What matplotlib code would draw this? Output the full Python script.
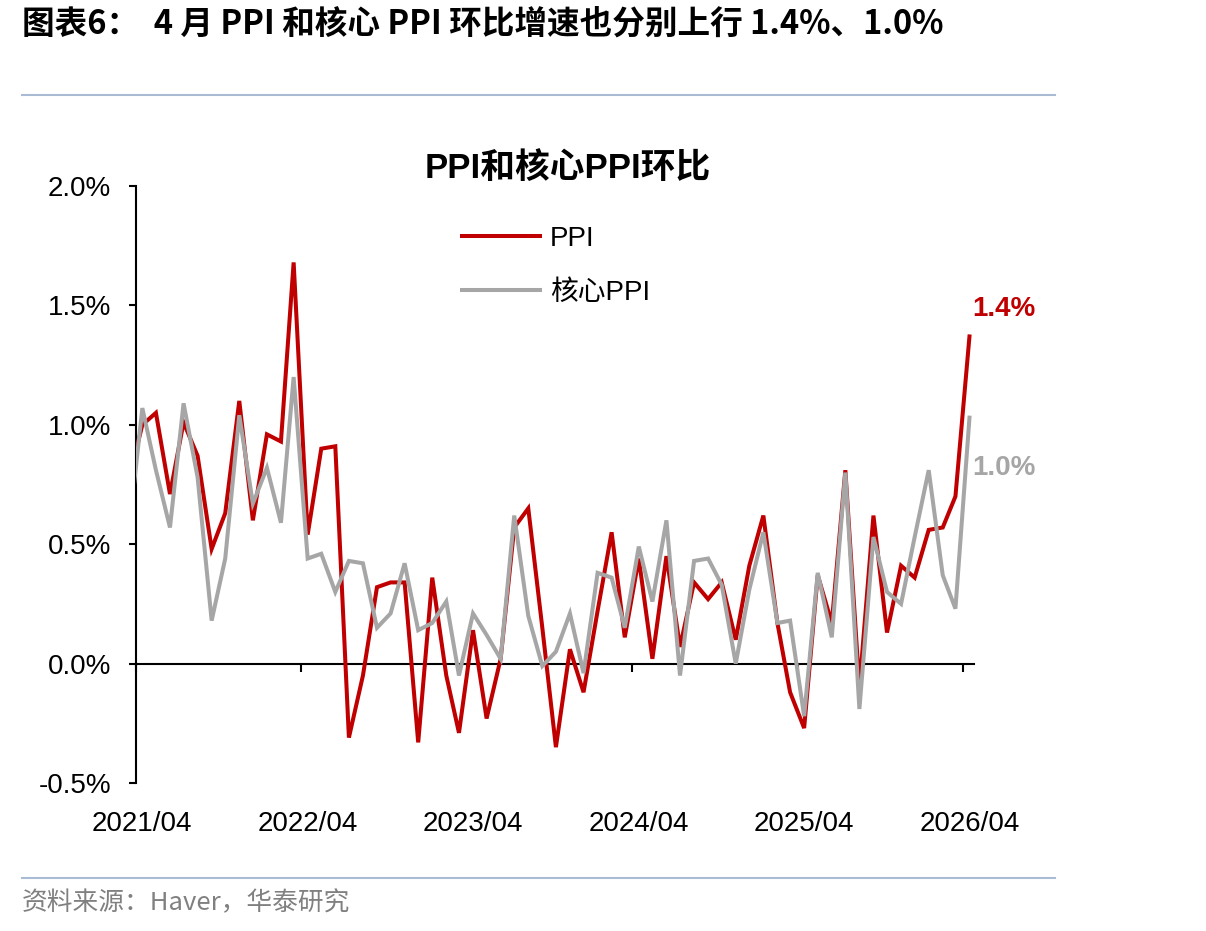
import matplotlib
matplotlib.use("Agg")
import matplotlib.pyplot as plt
from matplotlib.lines import Line2D
import numpy as np
import pandas as pd

plt.rcParams['font.family'] = ['Liberation Sans', 'Noto Sans CJK SC', 'DejaVu Sans']

# ---------------- data ----------------
# monthly, 2021/03 .. 2026/04 (first point lies left of the axis and is clipped)
months = pd.date_range('2021-03-01', '2026-04-01', freq='MS')
ppi = [0.76,
       1.00, 1.05, 0.71, 1.01, 0.87, 0.48, 0.63, 1.10, 0.60, 0.96, 0.93, 1.68,
       0.54, 0.90, 0.91, -0.31, -0.05, 0.32, 0.34, 0.34, -0.33, 0.36, -0.05, -0.29,
       0.14, -0.23, 0.02, 0.57, 0.65, 0.15, -0.35, 0.06, -0.12, 0.22, 0.55, 0.11,
       0.44, 0.02, 0.45, 0.07, 0.34, 0.27, 0.34, 0.10, 0.41, 0.62, 0.17, -0.12,
       -0.27, 0.37, 0.17, 0.81, -0.10, 0.62, 0.13, 0.41, 0.36, 0.56, 0.57, 0.70,
       1.37]
core_ppi = [0.53,
            1.07, 0.81, 0.57, 1.09, 0.78, 0.18, 0.44, 1.04, 0.67, 0.82, 0.59, 1.20,
            0.44, 0.46, 0.30, 0.43, 0.42, 0.15, 0.21, 0.42, 0.14, 0.17, 0.26, -0.05,
            0.21, 0.12, 0.02, 0.62, 0.20, -0.01, 0.05, 0.21, -0.04, 0.38, 0.36, 0.15,
            0.49, 0.26, 0.60, -0.05, 0.43, 0.44, 0.33, 0.00, 0.31, 0.55, 0.17, 0.18,
            -0.22, 0.38, 0.11, 0.80, -0.19, 0.53, 0.30, 0.25, 0.53, 0.81, 0.37, 0.23,
            1.03]
tick_labels = ['2021/04', '2022/04', '2023/04', '2024/04', '2025/04', '2026/04']
y_ticks = [-0.5, 0.0, 0.5, 1.0, 1.5, 2.0]

series_names = ['PPI', '核心PPI']
colors = ['#C00000', '#A6A6A6']

title_text = '图表6：  4 月 PPI 和核心 PPI 环比增速也分别上行 1.4%、1.0%'
chart_title = 'PPI和核心PPI环比'
source_text = '资料来源：Haver，华泰研究'

# ---------------- figure ----------------
W, H = 1206, 931
fig = plt.figure(figsize=(W / 100, H / 100), dpi=100)
ax = fig.add_axes([136 / W, 1 - 783 / H, (974 - 136) / W, (783 - 186) / H])

x = months + pd.Timedelta(days=14)
ax.plot(x, ppi, color=colors[0], lw=2.9, solid_joinstyle='miter', zorder=3)
ax.plot(x, core_ppi, color=colors[1], lw=2.9, solid_joinstyle='miter', zorder=4)

tick_dates = pd.to_datetime([t.replace('/', '-') + '-01' for t in tick_labels])
ax.set_xlim(tick_dates[0], pd.Timestamp('2026-04-25'))
ax.set_ylim(-0.5, 2.0)

for s in ['top', 'right']:
    ax.spines[s].set_visible(False)
ax.spines['bottom'].set_position(('data', 0))
ax.spines['bottom'].set_linewidth(1.5)
ax.spines['left'].set_linewidth(1.5)

ax.set_yticks(y_ticks)
ax.set_yticklabels([f'{v:.1f}%' for v in y_ticks])
ax.tick_params(axis='y', direction='out', length=5, width=1.5, labelsize=20, pad=13)

ax.set_xticks(tick_dates)
ax.tick_params(axis='x', direction='out', length=6, width=1.5, labelbottom=False)

sec = ax.secondary_xaxis(0)
sec.set_xticks(tick_dates + pd.Timedelta(days=14))
sec.set_xticklabels(tick_labels)
sec.tick_params(axis='x', length=0, labelsize=20, pad=20)
sec.spines['bottom'].set_visible(False)

# end labels
ax.annotate(f'{ppi[-1]:.1f}%', xy=(x[-1], ppi[-1]), xytext=(25, 20),
            textcoords='offset points', ha='center', va='center',
            fontsize=20, fontweight='bold', color=colors[0])
ax.annotate(f'{core_ppi[-1]:.1f}%', xy=(x[-1], core_ppi[-1]), xytext=(25, -36),
            textcoords='offset points', ha='center', va='center',
            fontsize=20, fontweight='bold', color=colors[1])

# legend
handles = [Line2D([], [], color=c, lw=2.9) for c in colors]
fig.legend(handles, series_names, loc='upper left',
           bbox_to_anchor=(462 / W, 1 - 226 / H), bbox_transform=fig.transFigure,
           frameon=False, fontsize=20, handlelength=2.8, handletextpad=0.36,
           labelspacing=1.01, borderpad=0, borderaxespad=0)

# titles / texts
fig.text(568 / W, 1 - 168 / H, chart_title, ha='center', va='center',
         fontsize=25, fontweight='bold', color='black')
fig.text(22 / W, 1 - 24 / H, title_text, ha='left', va='center',
         fontsize=23.5, fontweight='bold', color='black',
         family=['Noto Sans CJK SC', 'DejaVu Sans'])
fig.text(22 / W, 1 - 903 / H, source_text, ha='left', va='center',
         fontsize=18.5, color='#808080',
         family=['Noto Sans CJK SC', 'DejaVu Sans'])

for yy in [95, 878]:
    fig.add_artist(Line2D([22 / W, 1055 / W], [1 - yy / H, 1 - yy / H],
                          transform=fig.transFigure, color='#A9BCD3', lw=1.5))

fig.savefig('out.png', dpi=100)
